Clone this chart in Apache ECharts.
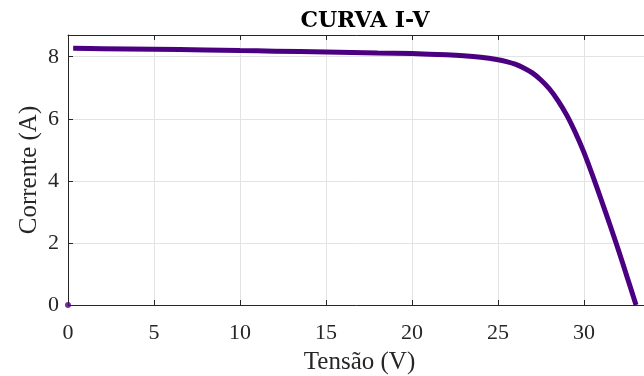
<!DOCTYPE html>
<html>
<head>
<meta charset="utf-8">
<script src="https://cdn.jsdelivr.net/npm/echarts@6/dist/echarts.min.js"></script>
<style>
  html, body { margin: 0; padding: 0; background: #ffffff; }
  #chart { width: 644px; height: 376px; }
</style>
</head>
<body>
<div id="chart"></div>
<script>
// Módulo fotovoltaico: tensão (V) e corrente (A) medidas ao longo da curva
const voltage = [0.3, 2, 5, 8, 10, 12, 15, 18, 20, 22, 23, 24, 25, 25.5, 26, 26.5, 27, 27.5, 28, 28.5, 29, 29.5, 30, 30.5, 31, 31.5, 32, 32.5, 33.03];
const current = [8.27, 8.26, 8.24, 8.22, 8.20, 8.18, 8.15, 8.12, 8.10, 8.06, 8.03, 7.98, 7.90, 7.84, 7.76, 7.64, 7.48, 7.25, 6.96, 6.58, 6.12, 5.56, 4.92, 4.18, 3.40, 2.60, 1.78, 0.92, 0.0];
// ponto inicial registrado na origem
const originV = [0];
const originI = [0];

const xTicks = [0, 5, 10, 15, 20, 25, 30];
const yTicks = [0, 2, 4, 6, 8];

const curve = voltage.map((v, i) => [v, current[i]]);
const origin = originV.map((v, i) => [v, originI[i]]);

const ink = '#262626';
const lineColor = '#4b0082';
const serif = '"Liberation Serif", "DejaVu Serif", serif';

const chart = echarts.init(document.getElementById('chart'), null, { renderer: 'canvas' });

chart.setOption({
  animation: false,
  backgroundColor: '#ffffff',
  title: {
    text: 'CURVA I-V',
    left: 360,
    textAlign: 'center',
    top: 5,
    textStyle: { fontFamily: '"DejaVu Serif", serif', fontWeight: 'bold', fontSize: 22, color: '#000000' }
  },
  // a borda direita do eixo fica fora da área visível
  grid: { left: 68, top: 35, width: 583, height: 270, containLabel: false, outerBoundsMode: 'none' },
  xAxis: [
    {
      type: 'value',
      min: 0,
      max: 33.9,
      interval: 5,
      position: 'bottom',
      name: 'Tensão (V)',
      nameLocation: 'middle',
      nameGap: 45,
      nameTextStyle: { fontFamily: serif, fontSize: 25, color: ink },
      axisLine: { show: true, onZero: false, lineStyle: { color: ink, width: 1 } },
      axisTick: { show: true, inside: true, length: 5, lineStyle: { color: ink } },
      axisLabel: {
        fontFamily: serif, fontSize: 22, color: ink, margin: 17,
        formatter: v => (xTicks.includes(v) ? String(v) : '')
      },
      splitLine: { show: true, lineStyle: { color: '#e3e3e3', width: 1 } }
    },
    {
      type: 'value',
      min: 0,
      max: 33.9,
      interval: 5,
      position: 'top',
      axisLine: { show: true, onZero: false, lineStyle: { color: ink, width: 1 } },
      axisTick: { show: true, inside: true, length: 5, lineStyle: { color: ink } },
      axisLabel: { show: false },
      splitLine: { show: false }
    }
  ],
  yAxis: [
    {
      type: 'value',
      min: 0,
      max: 8.7,
      interval: 2,
      position: 'left',
      name: 'Corrente (A)',
      nameLocation: 'middle',
      nameGap: 26,
      nameMoveOverlap: false,
      nameRotate: 90,
      nameTextStyle: { fontFamily: serif, fontSize: 25, color: ink },
      axisLine: { show: true, onZero: false, lineStyle: { color: ink, width: 1 } },
      axisTick: { show: true, inside: true, length: 5, lineStyle: { color: ink } },
      axisLabel: {
        fontFamily: serif, fontSize: 22, color: ink, margin: 9,
        formatter: v => (yTicks.includes(v) ? String(v) : '')
      },
      splitLine: { show: true, lineStyle: { color: '#e3e3e3', width: 1 } }
    }
  ],
  series: [
    {
      type: 'line',
      data: curve,
      xAxisIndex: 0,
      smooth: 0.3,
      showSymbol: false,
      lineStyle: { color: lineColor, width: 5, cap: 'butt' },
      z: 3
    },
    {
      type: 'scatter',
      data: origin,
      xAxisIndex: 0,
      symbol: 'circle',
      symbolSize: 6,
      itemStyle: { color: lineColor },
      z: 4
    }
  ]
});
</script>
</body>
</html>
